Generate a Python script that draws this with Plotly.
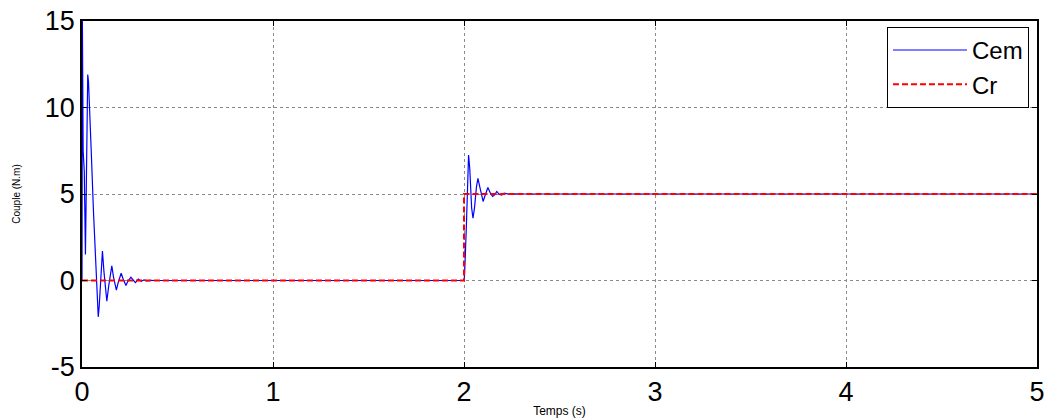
import plotly.graph_objects as go

# Cem (electromagnetic torque) samples
cem_t = [0, 0.002, 0.006, 0.012, 0.018, 0.022, 0.030, 0.034, 0.040, 0.050, 0.060, 0.070,
         0.080, 0.085, 0.090, 0.100, 0.107, 0.115, 0.122, 0.130, 0.140, 0.150, 0.156,
         0.165, 0.175, 0.180, 0.190, 0.200, 0.205, 0.215, 0.225, 0.230, 0.240, 0.250,
         0.256, 0.270, 0.280, 0.295, 0.310, 0.325, 0.340, 0.360, 0.380, 2.000,
         2.003, 2.012, 2.020, 2.024, 2.030, 2.040, 2.047, 2.055, 2.065, 2.073, 2.085,
         2.095, 2.100, 2.110, 2.120, 2.125, 2.140, 2.150, 2.160, 2.172, 2.185, 2.198,
         2.210, 2.222, 2.240, 2.260, 2.300, 5.000]
cem_v = [0, 15.0, 7.5, 6.3, 1.5, 5.0, 11.9, 11.5, 10.0, 7.0, 4.0, 1.5,
         -0.5, -2.1, -1.5, 0.5, 1.7, 0.5, -0.5, -1.2, -0.3, 0.6, 0.85,
         0.2, -0.4, -0.55, -0.1, 0.35, 0.42, 0.1, -0.25, -0.29, -0.05, 0.15,
         0.19, 0.0, -0.12, 0.08, -0.05, 0.04, -0.02, 0.01, 0.0, 0.0,
         0.3, 3.0, 6.5, 7.25, 6.5, 4.2, 3.6, 4.2, 5.4, 5.9, 5.3,
         4.7, 4.57, 4.9, 5.3, 5.38, 5.0, 4.86, 4.95, 5.15, 4.97, 4.94,
         5.05, 5.03, 4.98, 5.01, 5.0, 5.0]

# Cr (load torque)
cr_t = [0, 2.0, 2.0, 5.0]
cr_v = [0, 0, 5, 5]

x_ticks = [0, 1, 2, 3, 4, 5]
y_ticks = [-5, 0, 5, 10, 15]

FONT = "Liberation Sans, Arial"

fig = go.Figure()
fig.add_trace(go.Scatter(x=cem_t, y=cem_v, mode="lines", name="Cem",
                         line=dict(color="#0000FF", width=1.2)))
fig.add_trace(go.Scatter(x=cr_t, y=cr_v, mode="lines", name="Cr",
                         line=dict(color="#FF0000", width=2, dash="6px,3px")))

axis_common = dict(
    showline=True, linecolor="black", linewidth=1.5, mirror="ticks",
    ticks="inside", ticklen=5, tickcolor="black",
    showgrid=True, gridcolor="#8a8a8a", griddash="dot", gridwidth=1,
    zeroline=False, automargin=False, ticklabeloverflow="allow",
    tickfont=dict(family=FONT, size=27, color="black"),
)

fig.update_layout(
    width=1052, height=419,
    margin=dict(l=82, r=15, t=21, b=52),
    paper_bgcolor="white", plot_bgcolor="white",
    xaxis=dict(range=[0, 5], tickvals=x_ticks, ticktext=[str(v) for v in x_ticks],
               title=dict(text="Temps (s)", standoff=0,
                          font=dict(family=FONT, size=12, color="black")),
               **axis_common),
    yaxis=dict(range=[-5, 15], tickvals=y_ticks, ticktext=[str(v) for v in y_ticks],
               title=dict(text="Couple (N.m)", standoff=22,
                          font=dict(family=FONT, size=10, color="black")),
               **axis_common),
    legend=dict(x=0.9916, y=0.983, xanchor="right", yanchor="top",
                bgcolor="white", bordercolor="black", borderwidth=1,
                font=dict(family=FONT, size=24, color="black"),
                tracegroupgap=0, itemwidth=74),
    showlegend=True,
)

fig.write_html("out.html",
               config={"displayModeBar": False},
               post_script="document.body.style.margin='0';document.body.style.padding='0';")
